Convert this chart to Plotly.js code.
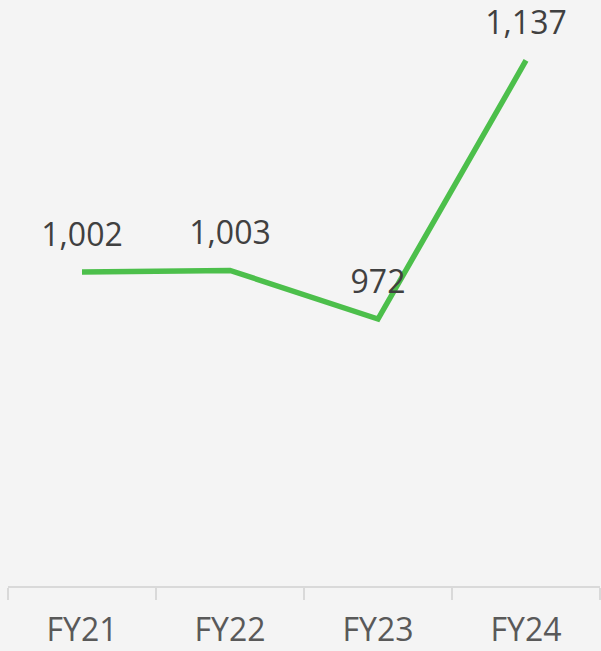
<!DOCTYPE html>
<html>
<head>
<meta charset="utf-8">
<script src="https://cdn.plot.ly/plotly-3.0.1.min.js"></script>
<style>
html,body{margin:0;padding:0;background:#f4f4f4;}
#chart{width:601px;height:651px;}
</style>
</head>
<body>
<div id="chart"></div>
<script>
var categories = ["FY21", "FY22", "FY23", "FY24"];
var values = [1002, 1003, 972, 1137];
var labels = ["1,002", "1,003", "972", "1,137"];

var trace = {
  x: categories,
  y: values,
  text: labels,
  type: "scatter",
  mode: "lines+markers+text",
  textposition: "top center",
  textfont: {family: "Open Sans, sans-serif", size: 32, color: "#404040"},
  line: {color: "#4cbf4b", width: 5.5},
  marker: {size: 28, color: "rgba(0,0,0,0)", line: {width: 0}},
  cliponaxis: false,
  hoverinfo: "none"
};

var layout = {
  width: 601,
  height: 651,
  margin: {l: 8, r: 1, t: 0, b: 65},
  paper_bgcolor: "#f4f4f4",
  plot_bgcolor: "#f4f4f4",
  showlegend: false,
  xaxis: {
    type: "category",
    range: [-0.5, 3.5],
    showline: true,
    linecolor: "#d9d9d9",
    linewidth: 1.5,
    showgrid: false,
    zeroline: false,
    ticks: "outside",
    tickson: "boundaries",
    ticklen: 12,
    tickcolor: "#d9d9d9",
    tickwidth: 1.5,
    ticklabelstandoff: 15,
    tickfont: {family: "Open Sans, sans-serif", size: 32, color: "#595959"},
    fixedrange: true
  },
  yaxis: {
    range: [801.6, 1175.6],
    visible: false,
    fixedrange: true
  }
};

Plotly.newPlot("chart", [trace], layout, {displayModeBar: false, staticPlot: true});
</script>
</body>
</html>
